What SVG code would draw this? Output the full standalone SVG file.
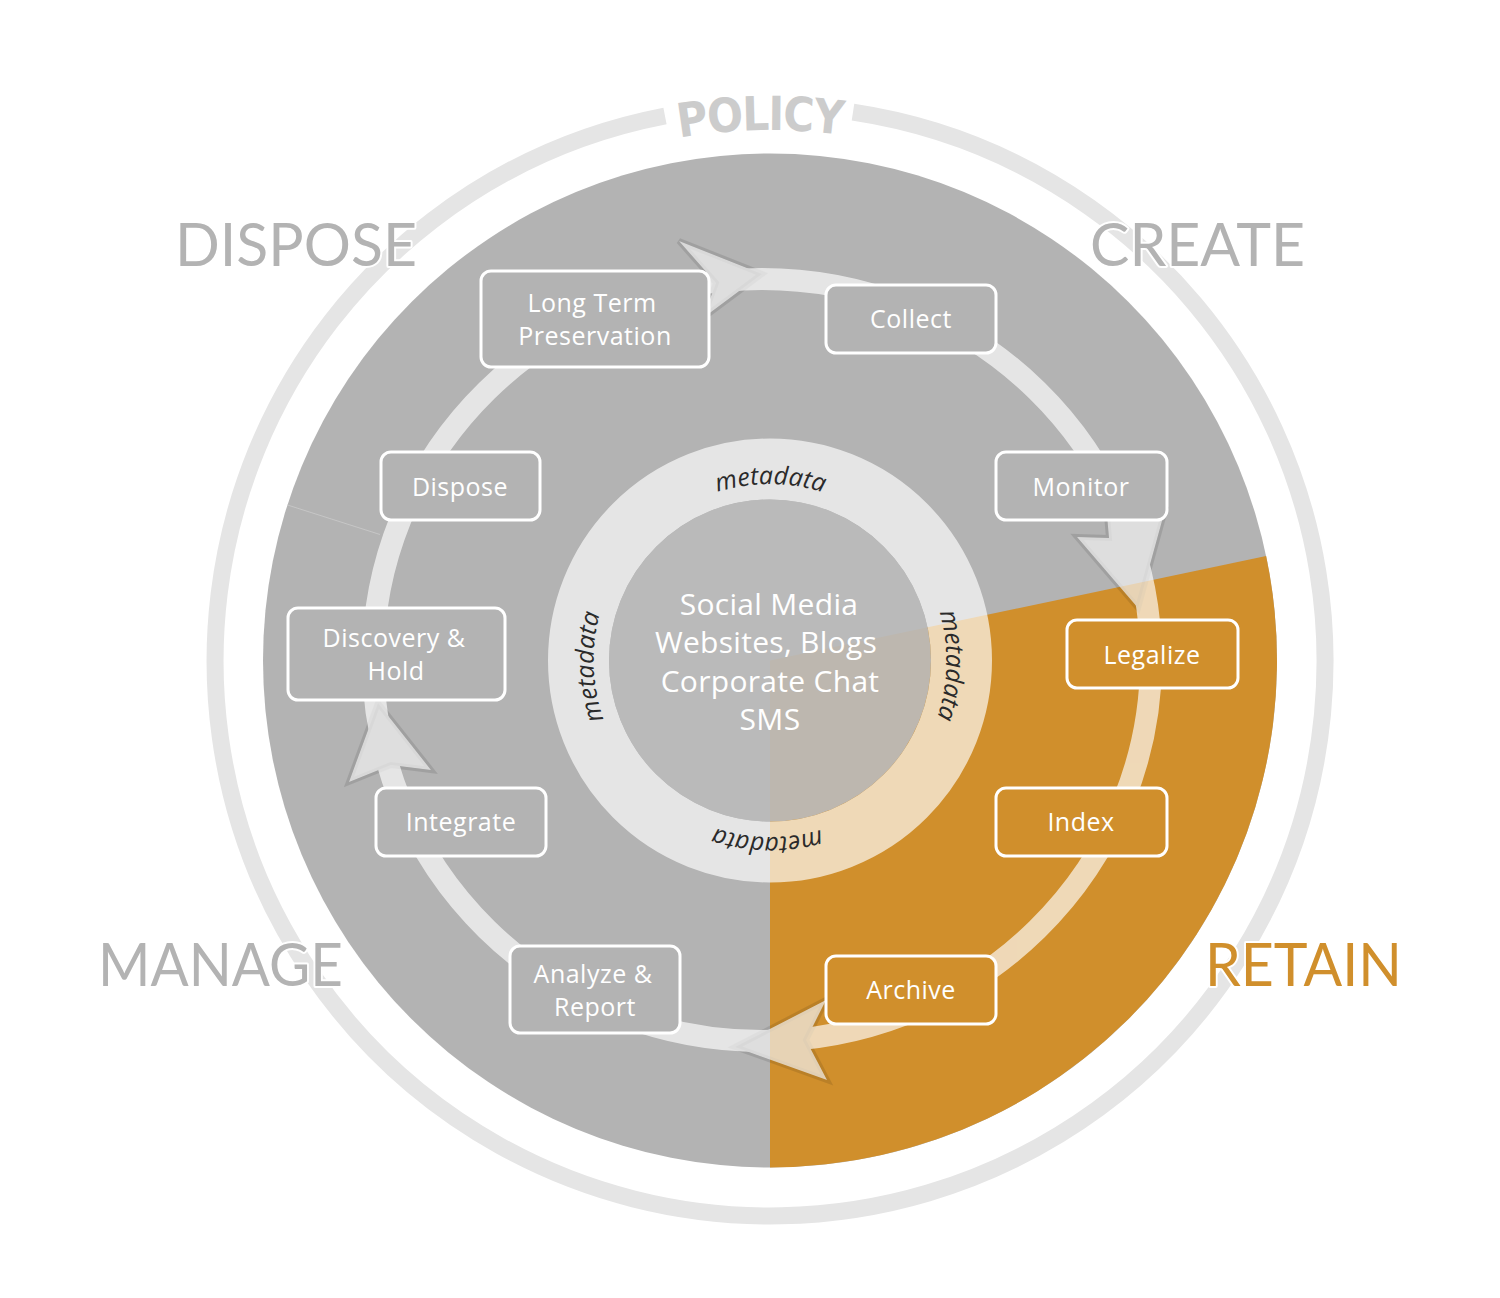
<svg xmlns="http://www.w3.org/2000/svg" width="1500" height="1298" viewBox="0 0 1500 1298">
<defs>
<style>
.box{fill:#b3b3b3;stroke:#ffffff;stroke-width:3}
.box.o{fill:#d08f2c}
.bt{font-family:"Open Sans","Liberation Sans",sans-serif;font-size:25px;letter-spacing:0.5px;fill:#ffffff;text-anchor:middle}
.big{font-family:"Lato","Liberation Sans",sans-serif;font-size:60px;fill:#b3b3b3;stroke:#ffffff;stroke-width:4;paint-order:stroke;stroke-linejoin:round}
.ct{font-family:"Open Sans","Liberation Sans",sans-serif;font-size:30px;letter-spacing:0.3px;fill:#ffffff;text-anchor:middle}
.md{font-family:"Open Sans","Liberation Sans",sans-serif;font-size:25px;font-style:italic;fill:#2a2a2a;text-anchor:middle}
.sh{fill:#000;fill-opacity:0.1;stroke:#000;stroke-opacity:0.1;stroke-width:6;stroke-linejoin:miter}
</style>
<path id="mdp" d="M645.55,784.95 A176 176 0 1 1 894.45,536.05 A176 176 0 1 1 645.55,784.95"/>
<path id="pol" d="M504.5,201.1 A531 531 0 0 1 1035.5,201.1"/>
</defs>
<rect width="1500" height="1298" fill="#ffffff"/>

<g id="policy-ring">
<path d="M853,112.2 A555 555 0 1 1 665,116" fill="none" stroke="#e5e5e5" stroke-width="17"/>
<text font-family="'DejaVu Sans','Liberation Sans',sans-serif" font-weight="bold" font-stretch="condensed" font-size="47" fill="#cccccc" letter-spacing="-1.5"><textPath href="#pol" startOffset="268" text-anchor="middle">POLICY</textPath></text>
</g>

<g id="disk">
<circle cx="770" cy="660.5" r="507" fill="#b3b3b3"/>
<path d="M770,660.5 L1266.1,556 A507 507 0 0 1 770,1167.5 Z" fill="#d08f2c"/>
<line x1="287.5" y1="505" x2="380" y2="534.5" stroke="#c6c6c6" stroke-width="1"/>
</g>

<g id="labels">
<text class="big" x="175" y="266" textLength="242" lengthAdjust="spacingAndGlyphs">DISPOSE</text>
<text class="big" x="1090" y="266" textLength="215" lengthAdjust="spacingAndGlyphs">CREATE</text>
<text class="big" x="98" y="986" textLength="245" lengthAdjust="spacingAndGlyphs">MANAGE</text>
<text class="big" x="1205" y="986" textLength="197" lengthAdjust="spacingAndGlyphs" style="fill:#d08f2c">RETAIN</text>
</g>

<g id="connectors">
<polygon class="sh" points="679,241 762,274 703,318 716,283"/>
<polygon class="sh" points="1138,608 1077,537 1109,538 1107,515 1165,510"/>
<polygon class="sh" points="735,1047 826,1000 806,1040 827,1080"/>
<polygon class="sh" points="378,703 431,770 391,765 349,782"/>
<g opacity="0.66" fill="#ffffff">
<ellipse cx="762" cy="660" rx="389" ry="381" fill="none" stroke="#ffffff" stroke-width="22"/>
<polygon points="679,241 762,274 703,318 716,283"/>
<polygon points="1138,608 1077,537 1109,538 1107,515 1165,510"/>
<polygon points="735,1047 826,1000 806,1040 827,1080"/>
<polygon points="378,703 431,770 391,765 349,782"/>
</g>
</g>

<g id="core">
<circle cx="770" cy="660.5" r="191.5" fill="none" stroke="#ffffff" stroke-opacity="0.66" stroke-width="61"/>
<circle cx="770" cy="660.5" r="161" fill="#bbbbbb" fill-opacity="0.92"/>
<text class="md"><textPath href="#mdp" startOffset="132">metadata</textPath></text>
<text class="md"><textPath href="#mdp" startOffset="416">metadata</textPath></text>
<text class="md"><textPath href="#mdp" startOffset="697">metadata</textPath></text>
<text class="md"><textPath href="#mdp" startOffset="972">metadata</textPath></text>
<text class="ct" x="769" y="615">Social Media</text>
<text class="ct" x="766" y="653">Websites, Blogs</text>
<text class="ct" x="770" y="692">Corporate Chat</text>
<text class="ct" x="770" y="730">SMS</text>
</g>

<g id="node-long-term">
<rect class="box" x="481" y="271" width="228" height="96" rx="10"/>
<text class="bt" x="592" y="312">Long Term</text>
<text class="bt" x="595" y="345">Preservation</text>
</g>
<g id="node-collect">
<rect class="box" x="826" y="285" width="170" height="68" rx="10"/>
<text class="bt" x="911" y="328">Collect</text>
</g>
<g id="node-monitor">
<rect class="box" x="996" y="452" width="171" height="68" rx="10"/>
<text class="bt" x="1081" y="496">Monitor</text>
</g>
<g id="node-legalize">
<rect class="box o" x="1067" y="620" width="171" height="68" rx="10"/>
<text class="bt" x="1152" y="664">Legalize</text>
</g>
<g id="node-index">
<rect class="box o" x="996" y="788" width="171" height="68" rx="10"/>
<text class="bt" x="1081" y="831">Index</text>
</g>
<g id="node-archive">
<rect class="box o" x="826" y="956" width="170" height="68" rx="10"/>
<text class="bt" x="911" y="999">Archive</text>
</g>
<g id="node-analyze">
<rect class="box" x="510" y="946" width="170" height="87" rx="10"/>
<text class="bt" x="593" y="983">Analyze &amp;</text>
<text class="bt" x="595" y="1016">Report</text>
</g>
<g id="node-integrate">
<rect class="box" x="376" y="788" width="170" height="68" rx="10"/>
<text class="bt" x="461" y="831">Integrate</text>
</g>
<g id="node-discovery">
<rect class="box" x="288" y="608" width="217" height="92" rx="10"/>
<text class="bt" x="394" y="647">Discovery &amp;</text>
<text class="bt" x="396" y="680">Hold</text>
</g>
<g id="node-dispose">
<rect class="box" x="381" y="452" width="159" height="68" rx="10"/>
<text class="bt" x="460" y="496">Dispose</text>
</g>
</svg>
